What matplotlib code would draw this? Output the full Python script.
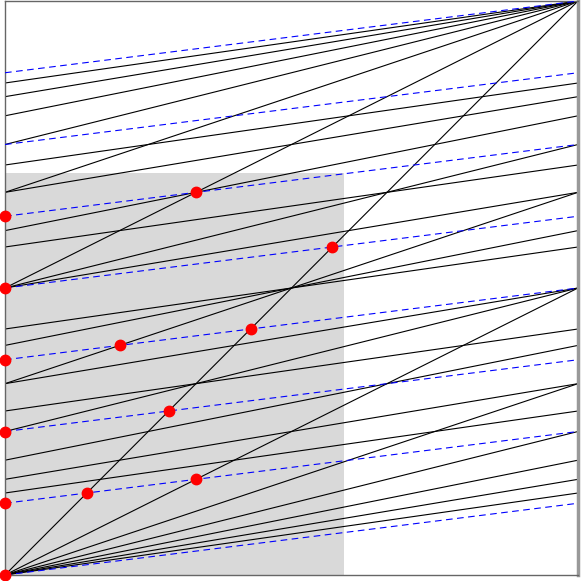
import matplotlib
matplotlib.use("Agg")
import matplotlib.pyplot as plt
from fractions import Fraction as F

# black lines: from (0, p/q) to (1, (p+1)/q) for these denominators
black_denoms = [1, 2, 3, 4, 5, 6, 7]
# blue dashed lines: same construction with denominator 8
blue_denom = 8
# red dots: (blue line index j, black line (left, right)) intersections; None = left edge point
dot_pairs = [
    (0, None), (1, None), (2, None), (3, None), (4, None), (5, None),
    (1, (F(0), F(1))), (1, (F(0), F(1, 2))),
    (2, (F(0), F(1))),
    (3, (F(0), F(1))), (3, (F(1, 3), F(2, 3))),
    (4, (F(0), F(1))),
    (5, (F(1, 2), F(1))),
]
grey_x = 0.592
grey_y = 0.70

fig = plt.figure(figsize=(5.81, 5.81), dpi=100)
ax = fig.add_axes([5/581, 6/581, 573/581, 574/581])
ax.set_xlim(0, 1)
ax.set_ylim(0, 1)
ax.set_xticks([])
ax.set_yticks([])
for s in ax.spines.values():
    s.set_color("#666666")
    s.set_linewidth(1.0)
ax.spines['right'].set_color("#999999")
ax.spines['right'].set_linewidth(2.5)

ax.add_patch(plt.Rectangle((0, 0), grey_x, grey_y, color="#d9d9d9", lw=0, zorder=0))

seen = set()
for q in black_denoms:
    for p in range(q):
        key = (F(p, q), F(p + 1, q))
        if key in seen:
            continue
        seen.add(key)
        ax.plot([0, 1], [float(key[0]), float(key[1])], color="black", lw=0.8, zorder=2)

for j in range(blue_denom):
    ax.plot([0, 1], [j / blue_denom, (j + 1) / blue_denom], color="blue",
            lw=0.8, ls=(0, (6, 4)), zorder=3)

xs, ys = [], []
for j, ln in dot_pairs:
    a0 = F(j, blue_denom)
    if ln is None:
        x = F(0)
    else:
        a, b = ln
        x = (a0 - a) / ((b - a) - F(1, blue_denom))
    xs.append(float(x))
    ys.append(float(a0 + x / blue_denom))
ax.plot(xs, ys, 'o', color="red", ms=7.5, zorder=5, clip_on=False)

fig.savefig("out.png", dpi=100)
